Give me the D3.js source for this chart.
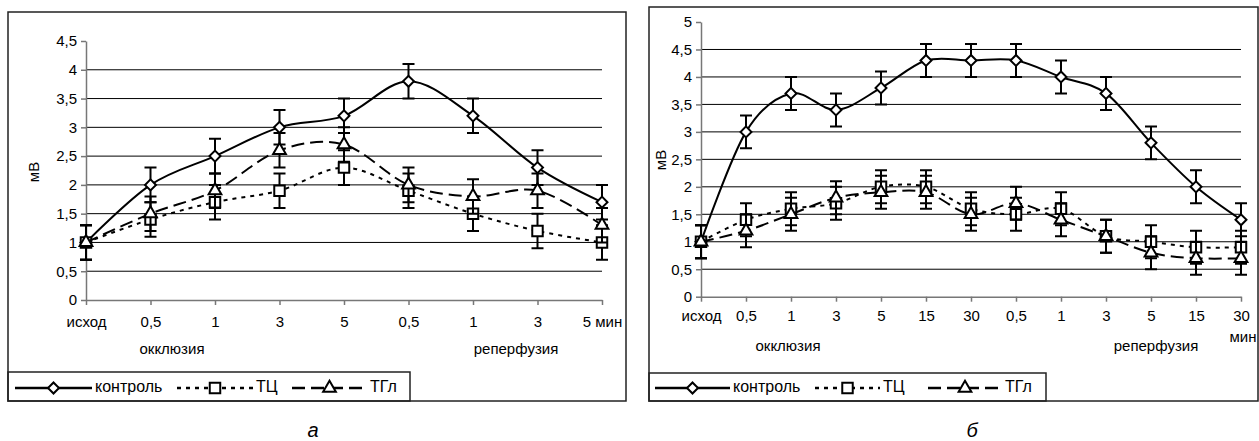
<!DOCTYPE html>
<html>
<head>
<meta charset="utf-8">
<script src="https://cdn.jsdelivr.net/npm/d3@7"></script>
<style>
body { margin: 0; background: #fff; }
text { font-family: "Liberation Sans", Arial, sans-serif; fill: #000; }
</style>
</head>
<body>
<div id="chart"></div>
<script>
const width = 1259;
const height = 441;

// panel а
const labelsA = ["исход", "0,5", "1", "3", "5", "0,5", "1", "3", "5 мин"];
const controlA = [1, 2, 2.5, 3, 3.2, 3.8, 3.2, 2.3, 1.7];
const tcA = [1, 1.4, 1.7, 1.9, 2.3, 1.9, 1.5, 1.2, 1.0];
const tglA = [1, 1.5, 1.9, 2.6, 2.7, 2.0, 1.8, 1.9, 1.3];
const yTicksA = [0, 0.5, 1, 1.5, 2, 2.5, 3, 3.5, 4, 4.5];

// panel б
const labelsB = ["исход", "0,5", "1", "3", "5", "15", "30", "0,5", "1", "3", "5", "15", "30"];
const controlB = [1, 3.0, 3.7, 3.4, 3.8, 4.3, 4.3, 4.3, 4.0, 3.7, 2.8, 2.0, 1.4];
const tcB = [1, 1.4, 1.6, 1.7, 2.0, 2.0, 1.6, 1.5, 1.6, 1.1, 1.0, 0.9, 0.9];
const tglB = [1, 1.2, 1.5, 1.8, 1.9, 1.9, 1.5, 1.7, 1.4, 1.1, 0.8, 0.7, 0.7];
const yTicksB = [0, 0.5, 1, 1.5, 2, 2.5, 3, 3.5, 4, 4.5, 5];

// standard error, same for all points
const errBar = 0.3;

const seriesNames = ["контроль", "ТЦ", "ТГл"];
const seriesStyles = [
    { dash: null, marker: "diamond" },
    { dash: "4,5", marker: "square" },
    { dash: "13,6", marker: "triangle" }
];

const fmt = d => String(d).replace(".", ",");

let svg = d3.select("#chart")
    .append("svg")
    .attr("width", width)
    .attr("height", height);

//marker shapes
const markerPath = function (type) {
    if (type === "diamond") return d3.symbol(d3.symbolSquare, 60)();
    if (type === "square") return d3.symbol(d3.symbolSquare, 110)();
    return d3.symbol(d3.symbolTriangle, 70)();
}
const drawMarker = function (g, type, x, y) {
    g.append("path")
        .attr("d", markerPath(type))
        .attr("transform", "translate(" + x + "," + y + ")" + (type === "diamond" ? " rotate(45)" : ""))
        .attr("fill", "#fff")
        .attr("stroke", "#000")
        .attr("stroke-width", 2);
}

const drawPanel = function (p) {
    let g = svg.append("g");

    //outer frame and legend box
    g.append("rect")
        .attr("x", p.frame[0]).attr("y", p.frame[1])
        .attr("width", p.frame[2]).attr("height", p.frame[3])
        .attr("fill", "none").attr("stroke", "#222").attr("stroke-width", 1.5);
    g.append("rect")
        .attr("x", p.legendBox[0]).attr("y", p.legendBox[1])
        .attr("width", p.legendBox[2]).attr("height", p.legendBox[3])
        .attr("fill", "none").attr("stroke", "#222").attr("stroke-width", 1.5);

    let xScale = d3.scalePoint()
        .domain(d3.range(p.labels.length))
        .range(p.xRange);
    let yScale = d3.scaleLinear()
        .domain([0, d3.max(p.yTicks)])
        .range(p.yRange);

    //gridlines
    g.selectAll(".grid")
        .data(p.yTicks.filter(t => t > 0 && t < d3.max(p.yTicks)))
        .enter()
        .append("line")
        .attr("x1", p.xRange[0]).attr("x2", p.xRange[1])
        .attr("y1", d => yScale(d)).attr("y2", d => yScale(d))
        .attr("stroke", "#000").attr("stroke-width", 1);

    //axes
    let yAxis = g.append("g")
        .attr("transform", "translate(" + p.xRange[0] + ",0)")
        .call(d3.axisLeft(yScale).tickValues(p.yTicks).tickFormat(fmt).tickSize(5).tickPadding(4).tickSizeOuter(0));
    let xAxis = g.append("g")
        .attr("transform", "translate(0," + p.yRange[0] + ")")
        .call(d3.axisBottom(xScale).tickFormat(i => p.labels[i]).tickSize(5).tickPadding(p.xPad).tickSizeOuter(0));
    [xAxis, yAxis].forEach(a => {
        a.select(".domain").attr("stroke", "#777").attr("stroke-width", 1.5);
        a.selectAll(".tick line").attr("stroke", "#777").attr("stroke-width", 1.5);
        a.selectAll(".tick text").attr("font-size", 15).attr("font-family", "Liberation Sans, Arial, sans-serif");
    });

    //series
    let line = d3.line()
        .x((d, i) => xScale(i))
        .y(d => yScale(d))
        .curve(d3.curveCatmullRom.alpha(0));

    p.series.forEach((values, s) => {
        let st = seriesStyles[s];
        let sg = g.append("g");
        sg.append("path")
            .datum(values)
            .attr("d", line)
            .attr("fill", "none")
            .attr("stroke", "#000")
            .attr("stroke-width", 2)
            .attr("stroke-dasharray", st.dash);
        //error bars
        values.forEach((v, i) => {
            let x = xScale(i);
            sg.append("path")
                .attr("d", "M" + x + "," + yScale(v - errBar) + "V" + yScale(v + errBar) +
                    "M" + (x - 6) + "," + yScale(v + errBar) + "H" + (x + 6) +
                    "M" + (x - 6) + "," + yScale(v - errBar) + "H" + (x + 6))
                .attr("fill", "none")
                .attr("stroke", "#000")
                .attr("stroke-width", 2);
        });
        values.forEach((v, i) => drawMarker(sg, st.marker, xScale(i), yScale(v)));
    });

    //axis titles
    g.append("text")
        .attr("transform", "translate(" + p.yLabel[0] + "," + p.yLabel[1] + ") rotate(-90)")
        .attr("text-anchor", "middle")
        .attr("dominant-baseline", "middle")
        .attr("font-size", 15)
        .text("мВ");
    p.notes.forEach(n => {
        g.append("text")
            .attr("x", n[0]).attr("y", n[1])
            .attr("text-anchor", "middle")
            .attr("dominant-baseline", "middle")
            .attr("font-size", 15)
            .text(n[2]);
    });

    //legend
    p.legend.forEach((l, s) => {
        let st = seriesStyles[s];
        g.append("line")
            .attr("x1", l[0]).attr("x2", l[1])
            .attr("y1", p.legendY).attr("y2", p.legendY)
            .attr("stroke", "#000").attr("stroke-width", 2.5)
            .attr("stroke-dasharray", st.dash);
        drawMarker(g, st.marker, (l[0] + l[1]) / 2, p.legendY);
        g.append("text")
            .attr("x", l[1] + 3).attr("y", p.legendY)
            .attr("dominant-baseline", "middle")
            .attr("font-size", 16)
            .text(seriesNames[s]);
    });

    //panel letter
    g.append("text")
        .attr("x", p.letter[0]).attr("y", p.letter[1])
        .attr("text-anchor", "middle")
        .attr("font-size", 20)
        .attr("font-style", "italic")
        .text(p.letter[2]);
}

drawPanel({
    labels: labelsA,
    series: [controlA, tcA, tglA],
    yTicks: yTicksA,
    frame: [8, 12, 618, 389],
    legendBox: [8, 372, 402, 29],
    xRange: [86, 602],
    yRange: [300, 41],
    xPad: 11,
    yLabel: [35, 172],
    notes: [[172, 350, "окклюзия"], [516, 350, "реперфузия"]],
    legend: [[15, 92], [177, 253], [292, 367]],
    legendY: 388,
    letter: [313, 437, "а"]
});

drawPanel({
    labels: labelsB,
    series: [controlB, tcB, tglB],
    yTicks: yTicksB,
    frame: [649, 7, 609, 394],
    legendBox: [649, 373, 397, 28],
    xRange: [701, 1241],
    yRange: [296.7, 22],
    xPad: 9,
    yLabel: [662, 160],
    notes: [[788, 347, "окклюзия"], [1156, 347, "реперфузия"], [1243, 338, "мин"]],
    legend: [[655, 730], [815, 880], [928, 1002]],
    legendY: 388,
    letter: [972, 437, "б"]
});
</script>
</body>
</html>
